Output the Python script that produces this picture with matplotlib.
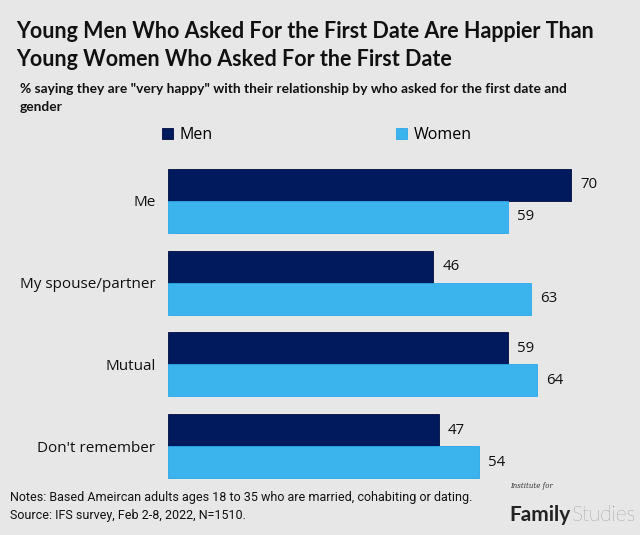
import matplotlib
matplotlib.use("Agg")
import matplotlib.pyplot as plt
import numpy as np

# data
categories = ["Me", "My spouse/partner", "Mutual", "Don't remember"]
men = [70, 46, 59, 47]
women = [59, 63, 64, 54]

navy = "#001a5e"
sky = "#3bb4ee"
bg = "#e7e7e7"

fig = plt.figure(figsize=(6.4, 5.35), dpi=100, facecolor=bg)
ax = fig.add_axes([168 / 640, 48 / 535, 461 / 640, 327 / 535])
ax.set_facecolor(bg)

y = np.arange(len(categories))
h = 0.39
ax.barh(y - h / 2, men, height=h, color=navy, edgecolor="#000c3a", linewidth=0.6, label="Men")
ax.barh(y + h / 2, women, height=h, color=sky, edgecolor="#2aa6e6", linewidth=0.6, label="Women")

for i in range(len(categories)):
    ax.text(men[i] + 1.6, y[i] - h / 2, str(men[i]), va="center", ha="left",
            fontsize=10.8, family="Open Sans", color="#111111")
    ax.text(women[i] + 1.6, y[i] + h / 2, str(women[i]), va="center", ha="left",
            fontsize=10.8, family="Open Sans", color="#111111")

ax.set_xlim(0, 80)
ax.set_ylim(3.5, -0.5)
ax.set_yticks(y)
ax.set_yticklabels(categories, fontsize=11, family="Open Sans", color="#111111")
ax.tick_params(axis="y", length=0, pad=9)
ax.set_xticks([])
for s in ax.spines.values():
    s.set_visible(False)

# titles
fig.text(16 / 640, 1 - 32 / 535, "Young Men Who Asked For the First Date Are Happier Than",
         fontsize=15.5, fontweight="bold", family="Lato", color="#111111", va="center")
fig.text(16 / 640, 1 - 60 / 535, "Young Women Who Asked For the First Date",
         fontsize=15.5, fontweight="bold", family="Lato", color="#111111", va="center")
fig.text(20 / 640, 1 - 89 / 535,
         '% saying they are "very happy" with their relationship by who asked for the first date and',
         fontsize=9.9, fontweight="bold", family="Lato", color="#111111", va="center")
fig.text(20 / 640, 1 - 107 / 535, "gender",
         fontsize=9.9, fontweight="bold", family="Lato", color="#111111", va="center")

# legend
fig.legend(loc="center", bbox_to_anchor=(0.495, 1 - 135 / 535), ncol=2, frameon=False,
           handlelength=0.7, handleheight=0.7, columnspacing=11.5, handletextpad=0.4,
           prop={"family": "Open Sans", "size": 11.5})

# notes
fig.text(10 / 640, 1 - 498 / 535,
         "Notes: Based Ameircan adults ages 18 to 35 who are married, cohabiting or dating.",
         fontsize=9, family="Roboto", color="#111111", va="center")
fig.text(10 / 640, 1 - 516 / 535, "Source: IFS survey, Feb 2-8, 2022, N=1510.",
         fontsize=9, family="Roboto", color="#111111", va="center")

# logo
fig.text(510 / 640, 1 - 486 / 535, "Institute for", fontsize=5, style="italic",
         family="DejaVu Serif", color="#333333", va="center")
fam = fig.text(509 / 640, 1 - 515 / 535, "Family", fontsize=15, fontweight="bold",
               family="Lato", color="#222222", va="center")
fig.canvas.draw()
bb = fam.get_window_extent()
fig.text((bb.x1 + 2) / 640, 1 - 515 / 535, "Studies", fontsize=15, fontweight="light",
         family="Lato", color="#666666", va="center")

fig.savefig("out.png", dpi=100, facecolor=bg)
